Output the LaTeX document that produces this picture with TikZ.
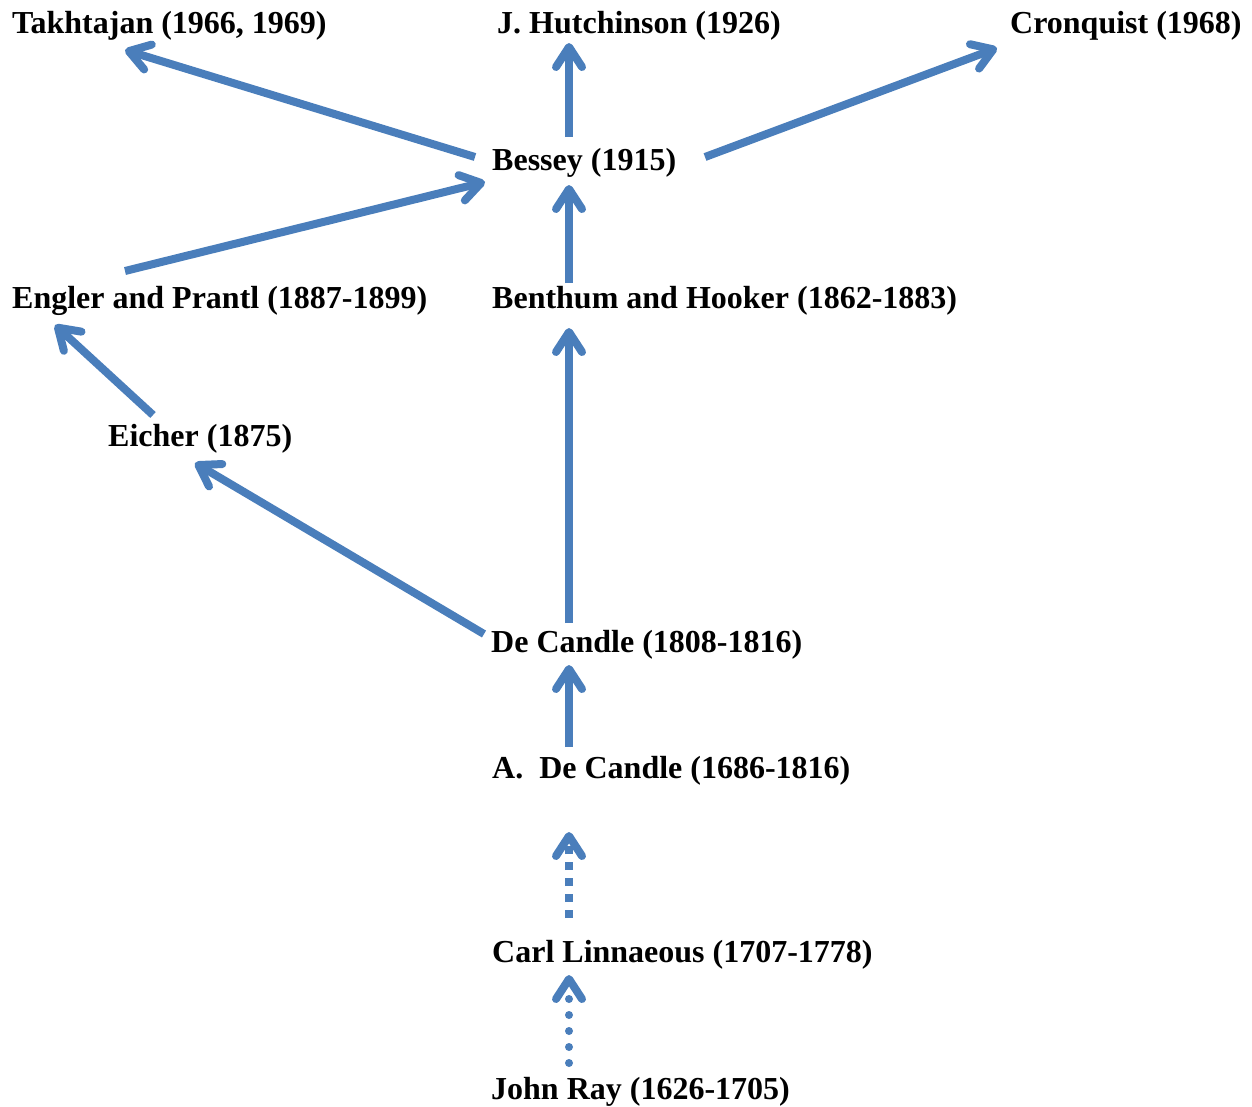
\documentclass[tikz,border=0pt]{standalone}
\usepackage{fontspec}
\setmainfont{Liberation Serif}
\usetikzlibrary{positioning,arrows.meta,calc}
\definecolor{linkblue}{HTML}{4A7EBB}

\begin{document}
\begin{tikzpicture}[x=1pt,y=-1pt,
        taxon/.style={anchor=base west,inner sep=0pt,text height=22pt,text depth=7pt,font=\fontsize{32}{38}\selectfont\bfseries},
        link/.style={draw=linkblue,line width=8pt,-{Straight Barb[length=20pt,width=26pt,round]}},
        dashlink/.style={link,dash pattern=on 8pt off 8pt},
        dotlink/.style={link,line cap=round,dash pattern=on 0pt off 16pt}]
        \useasboundingbox (0,0) rectangle (1252,1106);
        \node[taxon] (takh) at (12,33) {Takhtajan (1966, 1969)};
        \node[taxon] (hutch) at (497,33) {J. Hutchinson (1926)};
        \node[taxon] (cronq) at (1010,33) {Cronquist (1968)};
        \node[taxon] (bessey) at (492,170) {Bessey (1915)};
        \node[taxon] (engler) at (12,308) {Engler and Prantl (1887-1899)};
        \node[taxon] (benthum) at (492,308) {Benthum and Hooker (1862-1883)};
        \node[taxon] (eicher) at (108,446) {Eicher (1875)};
        \node[taxon] (decandle) at (491,652) {De Candle (1808-1816)};
        \node[taxon] (adecandle) at (492,778) {A.\ \ De Candle (1686-1816)};
        \node[taxon] (linn) at (492,962) {Carl Linnaeous (1707-1778)};
        \node[taxon] (ray) at (491,1099) {John Ray (1626-1705)};
        % upper part
        \draw[link] ($(bessey.base west)+(-17,-13)$) -- ($(takh.base west)+(113,17)$);
        \draw[link] ($(bessey.base west)+(77,-33)$) -- ($(hutch.base west)+(72,10)$);
        \draw[link] ($(bessey.base west)+(213,-13)$) -- ($(cronq.base west)+(-13,15)$);
        \draw[link] ($(engler.base west)+(113,-37)$) -- ($(bessey.base west)+(-7,12)$);
        \draw[link] ($(benthum.base west)+(77,-25)$) -- ($(bessey.base west)+(77,15)$);
        % middle part
        \draw[link] ($(decandle.base west)+(78,-29)$) -- ($(benthum.base west)+(77,20)$);
        \draw[link] ($(decandle.base west)+(-7,-18)$) -- ($(eicher.base west)+(87,17)$);
        \draw[link] ($(eicher.base west)+(45,-31)$) -- ($(engler.base west)+(43,17)$);
        \draw[link] ($(adecandle.base west)+(77,-31)$) -- ($(decandle.base west)+(78,13)$);
        % lower part
        \draw[dashlink] ($(linn.base west)+(77,-44)$) -- ($(adecandle.base west)+(77,54)$);
        \draw[dotlink] ($(ray.base west)+(78,-36)$) -- ($(linn.base west)+(77,13)$);
\end{tikzpicture}
\end{document}
